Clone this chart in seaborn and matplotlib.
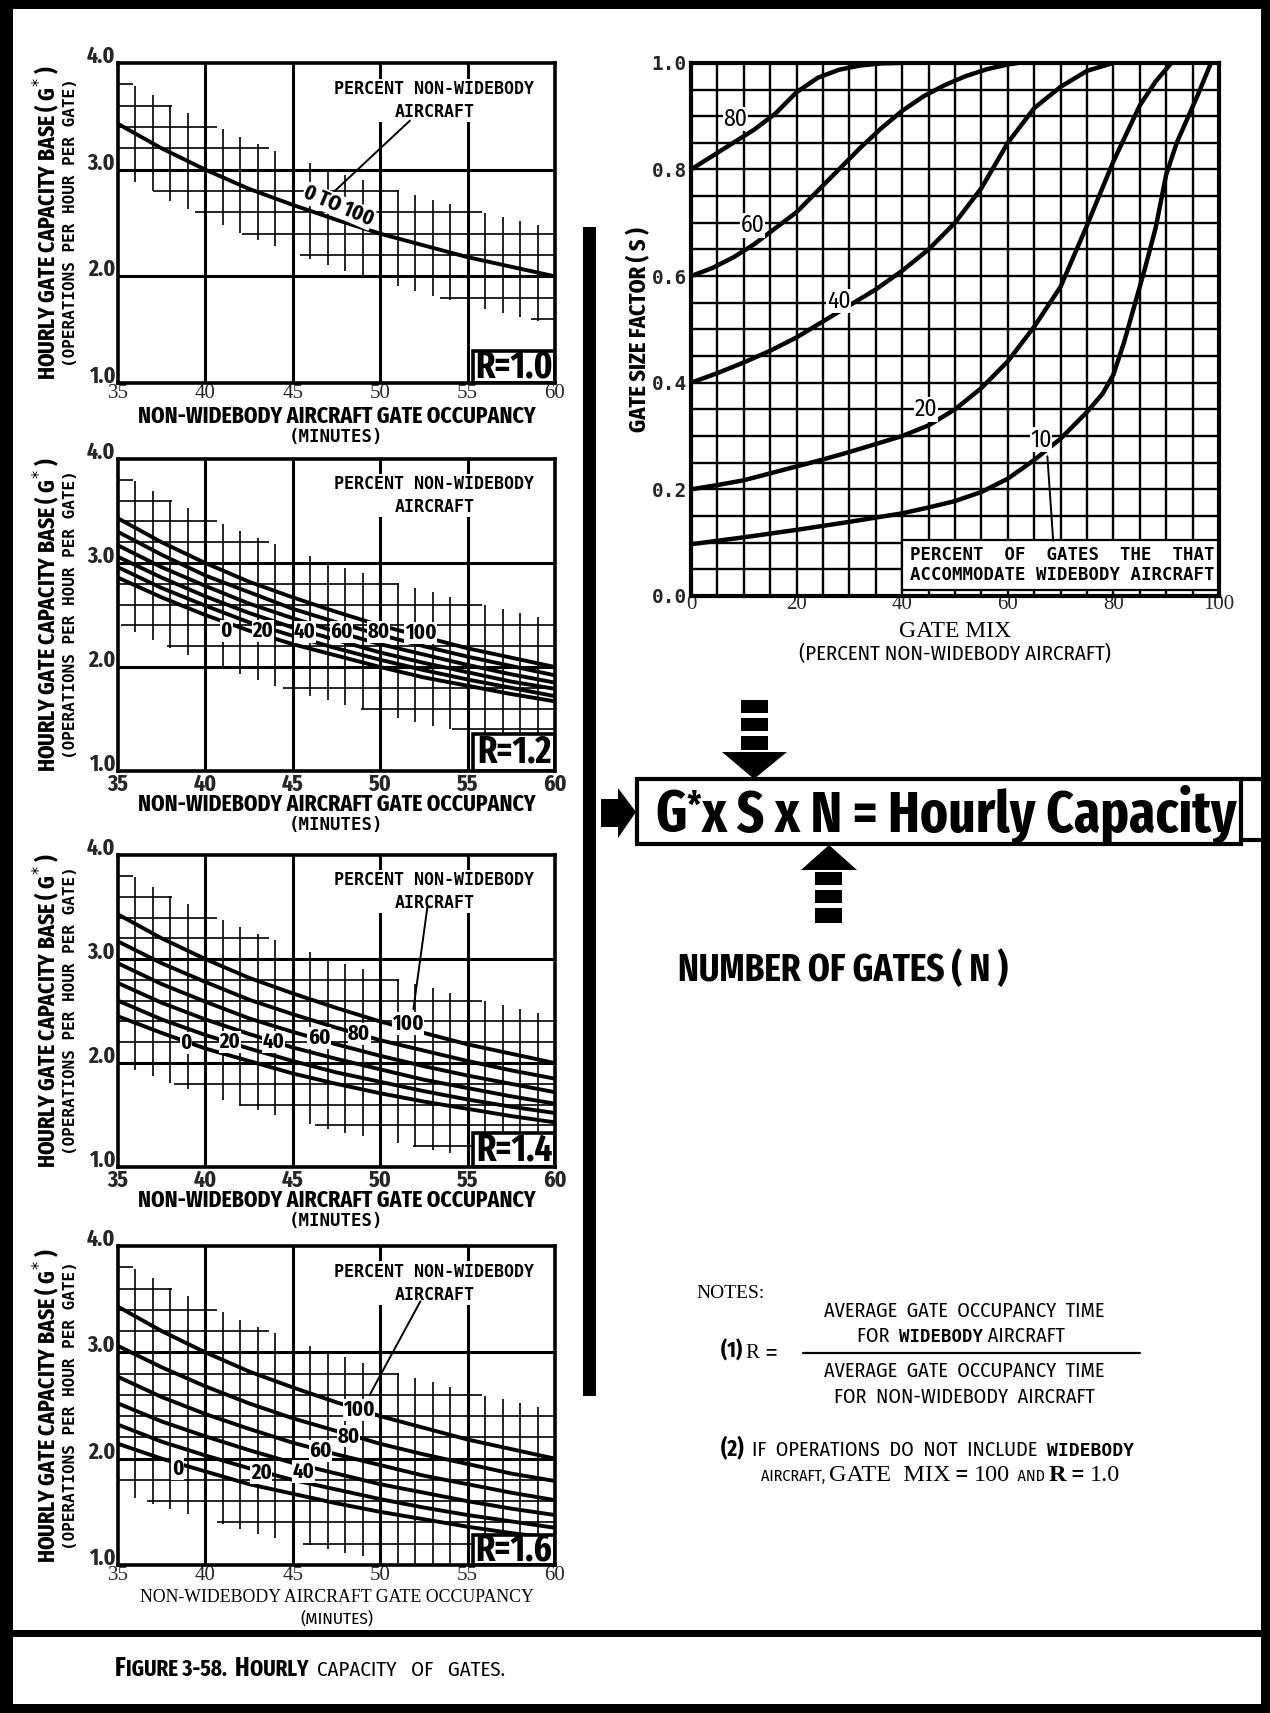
import numpy as np
import pandas as pd
import matplotlib
matplotlib.use("Agg")
import matplotlib.pyplot as plt
from matplotlib import font_manager
from matplotlib.patches import Rectangle, Polygon
import seaborn as sns

# gate occupancy (minutes) where the G* curves were read
minutes = [35, 37.5, 40, 42.5, 45, 47.5, 50, 52.5, 55, 57.5, 60]
pct_names = ["0", "20", "40", "60", "80", "100"]

# R = 1.0 : a single curve for 0 to 100 percent non-widebody
g_r10 = [3.43, 3.20, 3.00, 2.82, 2.67, 2.53, 2.40, 2.29, 2.18, 2.09, 2.00]

# R = 1.2 / 1.4 / 1.6 : one row per entry of pct_names
g_r12 = [
    [2.86, 2.67, 2.50, 2.35, 2.22, 2.11, 2.00, 1.90, 1.82, 1.74, 1.67],
    [2.96, 2.76, 2.59, 2.43, 2.30, 2.18, 2.07, 1.97, 1.88, 1.80, 1.72],
    [3.06, 2.86, 2.68, 2.52, 2.38, 2.26, 2.14, 2.04, 1.95, 1.86, 1.79],
    [3.17, 2.96, 2.78, 2.61, 2.47, 2.34, 2.22, 2.12, 2.02, 1.93, 1.85],
    [3.30, 3.08, 2.88, 2.72, 2.56, 2.43, 2.31, 2.20, 2.10, 2.01, 1.92],
    [3.43, 3.20, 3.00, 2.82, 2.67, 2.53, 2.40, 2.29, 2.18, 2.09, 2.00],
]
g_r14 = [
    [2.45, 2.29, 2.14, 2.02, 1.90, 1.80, 1.71, 1.63, 1.56, 1.49, 1.43],
    [2.60, 2.42, 2.27, 2.14, 2.02, 1.91, 1.82, 1.73, 1.65, 1.58, 1.52],
    [2.77, 2.58, 2.42, 2.28, 2.15, 2.04, 1.94, 1.84, 1.76, 1.68, 1.61],
    [2.96, 2.76, 2.59, 2.43, 2.30, 2.18, 2.07, 1.97, 1.88, 1.80, 1.72],
    [3.17, 2.96, 2.78, 2.61, 2.47, 2.34, 2.22, 2.12, 2.02, 1.93, 1.85],
    [3.43, 3.20, 3.00, 2.82, 2.67, 2.53, 2.40, 2.29, 2.18, 2.09, 2.00],
]
g_r16 = [
    [2.14, 2.00, 1.88, 1.76, 1.67, 1.58, 1.50, 1.43, 1.36, 1.30, 1.25],
    [2.32, 2.16, 2.03, 1.91, 1.80, 1.71, 1.62, 1.54, 1.47, 1.41, 1.35],
    [2.52, 2.35, 2.21, 2.08, 1.96, 1.86, 1.76, 1.68, 1.60, 1.53, 1.47],
    [2.77, 2.58, 2.42, 2.28, 2.15, 2.04, 1.94, 1.84, 1.76, 1.68, 1.61],
    [3.06, 2.86, 2.68, 2.52, 2.38, 2.26, 2.14, 2.04, 1.95, 1.86, 1.79],
    [3.43, 3.20, 3.00, 2.82, 2.67, 2.53, 2.40, 2.29, 2.18, 2.09, 2.00],
]

# gate size factor S vs gate mix, per percent of gates for widebodies
s_names = ["80", "60", "40", "20", "10"]
mix_80 = [0, 4, 8, 12, 16, 20, 24, 28, 32, 36, 40]
s_80 = [0.80, 0.825, 0.85, 0.875, 0.905, 0.945, 0.972, 0.987, 0.995, 0.999, 1.0]
mix_60 = [0, 4, 8, 12, 16, 20, 24, 28, 32, 36, 40, 44, 48, 52, 56, 60, 62]
s_60 = [0.60, 0.615, 0.635, 0.66, 0.69, 0.72, 0.76, 0.80, 0.84, 0.877, 0.91,
        0.937, 0.958, 0.975, 0.988, 0.997, 1.0]
mix_40 = [0, 5, 10, 15, 20, 25, 30, 35, 40, 45, 50, 55, 60, 65, 70, 75, 80]
s_40 = [0.40, 0.418, 0.438, 0.46, 0.485, 0.515, 0.545, 0.575, 0.61, 0.65,
        0.70, 0.765, 0.85, 0.915, 0.955, 0.985, 1.0]
mix_20 = [0, 5, 10, 15, 20, 25, 30, 35, 40, 45, 50, 55, 60, 65, 70, 75, 80,
          85, 88, 91]
s_20 = [0.20, 0.208, 0.217, 0.23, 0.243, 0.256, 0.27, 0.285, 0.30, 0.32, 0.35,
        0.39, 0.44, 0.505, 0.58, 0.695, 0.815, 0.92, 0.965, 1.0]
mix_10 = [0, 10, 20, 30, 40, 45, 50, 55, 60, 65, 70, 75, 78, 80, 82, 84, 86,
          88, 90, 92, 94, 96, 98.5]
s_10 = [0.097, 0.11, 0.124, 0.139, 0.155, 0.166, 0.178, 0.195, 0.22, 0.255,
        0.295, 0.345, 0.38, 0.415, 0.475, 0.545, 0.615, 0.69, 0.79, 0.85,
        0.895, 0.94, 1.0]


sns.set_theme(style="white")
names = {f.name for f in font_manager.fontManager.ttflist}


def first(*cands):
    for c in cands:
        if c in names:
            return c
    return "DejaVu Sans"


NARROW = first("Fira Sans Condensed", "Archivo Narrow", "Liberation Sans")
XNARROW = first("Fira Sans Extra Condensed", NARROW)
MONO = first("DejaVu Sans Mono", "Liberation Mono")
SERIF = first("Liberation Serif", "DejaVu Serif")
SANS = first("Liberation Sans", "DejaVu Sans")
plt.rcParams["font.family"] = [NARROW, "DejaVu Sans"]
plt.rcParams["text.color"] = "black"

BOLDX = dict(family=[XNARROW, "DejaVu Sans"], weight="bold")
MONOB = dict(family=[MONO], weight="bold")

fig = plt.figure(figsize=(12.7, 17.13), dpi=100)


def g_panel(ax, curves, r_text, labels, leader, box_top, serif_x=False):
    curves = np.atleast_2d(curves)
    n = len(curves)
    df = pd.DataFrame({
        "minutes": np.tile(minutes, n),
        "g": np.concatenate(curves),
        "pct": np.repeat(pct_names[-n:] if n > 1 else ["all"], len(minutes)),
    })
    sns.lineplot(data=df, x="minutes", y="g", hue="pct", estimator=None,
                 palette=["black"] * n, legend=False, lw=2.8, ax=ax,
                 zorder=4, sort=False)

    # partial fine grid around the curves
    lo = np.min(curves, axis=0) - 0.45
    hi = np.max(curves, axis=0) + 0.45
    for x in range(36, 60):
        if x % 5:
            lx = np.interp(x, minutes, lo)
            hx = np.interp(x, minutes, hi)
            ax.vlines(x, max(1, lx), min(4, hx), color="black", lw=1.2, zorder=1)
    fine = np.linspace(35, 60, 501)
    lo_f = np.interp(fine, minutes, lo)
    hi_f = np.interp(fine, minutes, hi)
    for y in np.round(np.arange(1.2, 4.0, 0.2), 1):
        if y in (2.0, 3.0):
            continue
        m = (lo_f <= y) & (hi_f >= y)
        if m.any():
            ax.hlines(y, fine[m].min(), fine[m].max(), color="black", lw=1.2, zorder=1)

    for x in (40, 45, 50, 55):
        ax.axvline(x, color="black", lw=2.2, zorder=2)
    for y in (2, 3):
        ax.axhline(y, color="black", lw=2.2, zorder=2)

    ax.set_xlim(35, 60)
    ax.set_ylim(1, 4)
    ax.set_xticks([35, 40, 45, 50, 55, 60])
    ax.set_yticks([1, 2, 3, 4])
    ax.set_yticklabels(["1.0", "2.0", "3.0", "4.0"], **BOLDX, fontsize=17)
    for lbl in ax.get_yticklabels():
        lbl.set_va("baseline")
    if serif_x:
        ax.set_xticklabels(["35", "40", "45", "50", "55", "60"], family=SERIF, fontsize=15)
    else:
        ax.set_xticklabels(["35", "40", "45", "50", "55", "60"], **BOLDX, fontsize=17)
    ax.tick_params(axis="y", length=0, pad=2)
    ax.tick_params(axis="x", length=0, pad=1)
    ax.set_xlabel("")
    ax.set_ylabel("")
    for s in ax.spines.values():
        s.set_linewidth(2.6)
        s.set_color("black")
        s.set_zorder(7)

    ax.text(53.1, 3.65, "PERCENT NON-WIDEBODY\nAIRCRAFT", ha="center", va="center",
            fontsize=12, linespacing=1.35, zorder=5, **MONOB,
            bbox=dict(fc="white", ec="none", pad=1))
    for lab, x, y, rot in labels:
        ax.text(x, y, lab, ha="center", va="center", fontsize=16, rotation=rot,
                zorder=5, **BOLDX, bbox=dict(fc="white", ec="none", pad=0.3))
    if leader:
        ax.plot(leader[0], leader[1], color="black", lw=1.4, zorder=6)

    ax.add_patch(Rectangle((55.3, 1.0), 4.7, box_top - 1.0, fc="white", ec="black",
                           lw=2.6, zorder=6))
    ax.text(57.65, 1.0 + (box_top - 1.0) / 2, r_text, ha="center", va="center",
            fontsize=27, zorder=7, **BOLDX)

    ax.text(-0.163, 0.5, "HOURLY GATE CAPACITY BASE ( G$^{*}$ )", rotation=90,
            transform=ax.transAxes, ha="center", va="center", fontsize=17, **BOLDX)
    ax.text(-0.108, 0.5, "(OPERATIONS PER HOUR PER GATE)", rotation=90,
            transform=ax.transAxes, ha="center", va="center", fontsize=11.5, **MONOB)


panel_rects = [
    [0.0929, 0.7764, 0.3441, 0.1868],
    [0.0929, 0.5499, 0.3441, 0.1821],
    [0.0929, 0.3187, 0.3441, 0.1821],
    [0.0929, 0.0864, 0.3441, 0.1862],
]
axes = [fig.add_axes(r) for r in panel_rects]

g_panel(axes[0], g_r10, "R=1.0",
        [("0 TO 100", 47.6, 2.66, -23)],
        ([47.4, 51.7], [2.80, 3.46]), 1.30, serif_x=True)
g_panel(axes[1], g_r12, "R=1.2",
        [("0", 41.2, 2.35, 0), ("20", 43.3, 2.35, 0), ("40", 45.7, 2.34, 0),
         ("60", 47.8, 2.34, 0), ("80", 49.9, 2.34, 0), ("100", 52.3, 2.33, 0)],
        None, 1.36)
g_panel(axes[2], g_r14, "R=1.4",
        [("0", 38.9, 2.19, 0), ("20", 41.4, 2.20, 0), ("40", 43.9, 2.20, 0),
         ("60", 46.5, 2.24, 0), ("80", 48.8, 2.28, 0), ("100", 51.6, 2.38, 0)],
        ([52.7, 51.9], [3.50, 2.52]), 1.33)
g_panel(axes[3], g_r16, "R=1.6",
        [("0", 38.4, 1.90, 0), ("20", 43.2, 1.87, 0), ("40", 45.6, 1.88, 0),
         ("60", 46.6, 2.07, 0), ("80", 48.2, 2.21, 0), ("100", 48.8, 2.46, 0)],
        ([52.3, 49.4], [3.48, 2.60]), 1.28, serif_x=True)

for i, ax in enumerate(axes):
    serif = i == 3
    ax.annotate("NON-WIDEBODY AIRCRAFT GATE OCCUPANCY", xy=(0.5, 0), xycoords="axes fraction",
                xytext=(0, -33), textcoords="offset pixels", ha="center", va="center",
                fontsize=12.8 if serif else 17,
                **(dict(family=SERIF) if serif else BOLDX))
    ax.annotate("(MINUTES)", xy=(0.5, 0), xycoords="axes fraction",
                xytext=(0, -54), textcoords="offset pixels", ha="center", va="center",
                fontsize=12.5, **(dict(family=[NARROW]) if serif else MONOB))

# gate size factor chart
axs = fig.add_axes([0.5441, 0.6521, 0.4157, 0.3112])
s_df = pd.concat([
    pd.DataFrame({"mix": mx, "s": sv, "gates": nm})
    for mx, sv, nm in zip([mix_80, mix_60, mix_40, mix_20, mix_10],
                          [s_80, s_60, s_40, s_20, s_10], s_names)
])
for x in range(5, 100, 5):
    axs.axvline(x, color="black", lw=1.7, zorder=1)
for y in np.arange(0.05, 1.0, 0.05):
    axs.axhline(y, color="black", lw=1.7, zorder=1)
sns.lineplot(data=s_df, x="mix", y="s", hue="gates", estimator=None, sort=False,
             palette=["black"] * len(s_names), legend=False, lw=3.2, ax=axs, zorder=4)
axs.set_xlim(0, 100)
axs.set_ylim(0, 1)
axs.set_xticks([0, 20, 40, 60, 80, 100])
axs.set_xticklabels(["0", "20", "40", "60", "80", "100"], family=SERIF, fontsize=15)
axs.set_yticks([0, 0.2, 0.4, 0.6, 0.8, 1.0])
axs.set_yticklabels(["0.0", "0.2", "0.4", "0.6", "0.8", "1.0"], fontsize=14, **MONOB)
axs.tick_params(axis="x", length=0, pad=-1)
axs.tick_params(axis="y", length=0, pad=3)
axs.set_xlabel("")
axs.set_ylabel("")
for s in axs.spines.values():
    s.set_linewidth(3)
    s.set_color("black")
    s.set_zorder(7)
for lab, x, y in [("80", 8.4, 0.895), ("60", 11.7, 0.695), ("40", 28.0, 0.553),
                  ("20", 44.6, 0.350), ("10", 66.3, 0.293)]:
    axs.text(x, y, lab, ha="center", va="center", fontsize=17, zorder=5,
             family=[NARROW], bbox=dict(fc="white", ec="none", pad=0.5))
axs.plot([67.5, 68.6], [0.262, 0.104], color="black", lw=1.4, zorder=6)
axs.add_patch(Rectangle((40, 0.012), 60, 0.093, fc="white", ec="black", lw=1.6, zorder=5))
axs.text(41.5, 0.077, "PERCENT  OF  GATES  THE  THAT", fontsize=12.5, va="center",
         zorder=6, **MONOB)
axs.text(41.5, 0.040, "ACCOMMODATE WIDEBODY AIRCRAFT", fontsize=12.5, va="center",
         zorder=6, **MONOB)
axs.text(-0.098, 0.5, "GATE SIZE FACTOR ( S )", rotation=90, transform=axs.transAxes,
         ha="center", va="center", fontsize=17.5, **BOLDX)
axs.annotate("GATE MIX", xy=(0.5, 0), xycoords="axes fraction", xytext=(0, -36),
             textcoords="offset pixels", ha="center", va="center", fontsize=17, family=SERIF)
axs.annotate("(PERCENT NON-WIDEBODY AIRCRAFT)", xy=(0.5, 0), xycoords="axes fraction",
             xytext=(0, -58), textcoords="offset pixels", ha="center", va="center",
             fontsize=15, family=[NARROW])

# page overlay in pixel units: frame, arrows, formula and notes
ov = fig.add_axes([0, 0, 1, 1], zorder=10)
ov.set_xlim(0, 1270)
ov.set_ylim(1713, 0)
ov.axis("off")
ov.patch.set_alpha(0)

for x, y, w, h in [(0, 0, 13, 1713), (0, 0, 1270, 9), (1261, 0, 9, 1713),
                   (0, 1704, 1270, 9), (0, 1630, 1270, 7), (583, 227, 13, 1169)]:
    ov.add_patch(Rectangle((x, y), w, h, fc="black", ec="none"))

ov.add_patch(Rectangle((637, 779), 604, 65, fc="none", ec="black", lw=3))
ov.plot([1241, 1270], [779, 779], color="black", lw=3)
ov.plot([1241, 1270], [840, 840], color="black", lw=3)
ov.add_patch(Polygon([(601, 799), (618, 799), (618, 788), (636, 812), (618, 838),
                      (618, 827), (601, 827)], closed=True, fc="black", ec="none"))
for y, h in [(700, 13), (718, 13), (736, 14)]:
    ov.add_patch(Rectangle((741, y), 27, h, fc="black", ec="none"))
ov.add_patch(Polygon([(722, 752), (787, 752), (754, 779)], closed=True, fc="black", ec="none"))
for y, h in [(872, 13), (890, 13), (908, 15)]:
    ov.add_patch(Rectangle((815, y), 27, h, fc="black", ec="none"))
ov.add_patch(Polygon([(801, 870), (857, 870), (829, 845)], closed=True, fc="black", ec="none"))


def run_text(x, y, parts):
    prev = None
    for s, kw in parts:
        if prev is None:
            prev = ov.text(x, y, s, ha="left", va="baseline", **kw)
        else:
            prev = ov.annotate(s, xy=(1, y), xycoords=(prev, "data"), ha="left",
                               va="baseline", **kw)
    return prev


g_txt = ov.text(655, 831, "G", ha="left", va="baseline", fontsize=41.5, **BOLDX)
star = ov.annotate("*", xy=(1.0, 0.97), xycoords=g_txt, ha="left", va="top",
                   fontsize=27, **BOLDX)
ov.annotate("x S x N = Hourly Capacity", xy=(1, 831), xycoords=(star, "data"),
            ha="left", va="baseline", fontsize=41.5, **BOLDX)
ov.text(678, 970, "NUMBER OF GATES ( N )", ha="left", va="center", fontsize=27.5, **BOLDX)

ov.text(696, 1293, "NOTES:", ha="left", va="center", fontsize=14, family=SERIF)
ov.text(964, 1311, "AVERAGE  GATE  OCCUPANCY  TIME", ha="center", va="center",
        fontsize=14.5, family=[NARROW])
run_text(857, 1342, [("FOR  ", dict(fontsize=14.5, family=[NARROW])),
                     ("WIDEBODY", dict(fontsize=12.5, **MONOB)),
                     (" AIRCRAFT", dict(fontsize=14.5, family=[NARROW]))])
ov.plot([803, 1140], [1353, 1353], color="black", lw=1.6)
run_text(721, 1358, [("(1) ", dict(fontsize=16, **BOLDX)),
                     ("R ", dict(fontsize=15, family=SERIF)),
                     ("=", dict(fontsize=14, weight="bold", family=[SANS]))])
ov.text(964, 1371, "AVERAGE  GATE  OCCUPANCY  TIME", ha="center", va="center",
        fontsize=14.5, family=[NARROW])
ov.text(964, 1397, "FOR  NON-WIDEBODY  AIRCRAFT", ha="center", va="center",
        fontsize=14.5, family=[NARROW])
run_text(721, 1456, [("(2)  ", dict(fontsize=16.5, **BOLDX)),
                     ("IF  OPERATIONS  DO  NOT  INCLUDE  ", dict(fontsize=14.5, family=[NARROW])),
                     ("WIDEBODY", dict(fontsize=13, **MONOB))])
run_text(761, 1481, [("AIRCRAFT, ", dict(fontsize=11.5, family=[NARROW])),
                     ("GATE  MIX", dict(fontsize=17.5, family=SERIF)),
                     (" = ", dict(fontsize=15, weight="bold", family=[SANS])),
                     ("100", dict(fontsize=17.5, family=SERIF)),
                     ("  AND ", dict(fontsize=11.5, family=[NARROW])),
                     ("R", dict(fontsize=17.5, family=SERIF, weight="bold")),
                     (" = ", dict(fontsize=15, weight="bold", family=[SANS])),
                     ("1.0", dict(fontsize=17.5, family=SERIF))])

run_text(115, 1676, [("F", dict(fontsize=19, **BOLDX)),
                     ("IGURE 3-58.  ", dict(fontsize=16.5, **BOLDX)),
                     ("H", dict(fontsize=19, **BOLDX)),
                     ("OURLY  ", dict(fontsize=16.5, **BOLDX)),
                     ("CAPACITY   OF   GATES.", dict(fontsize=15, family=[NARROW]))])

fig.savefig("out.png", dpi=100, facecolor="white")
